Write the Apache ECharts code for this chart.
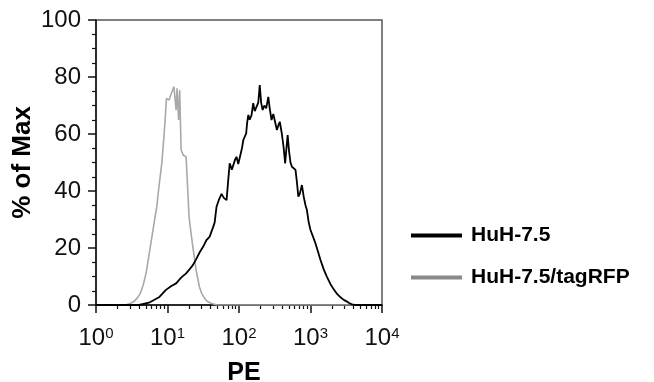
<!DOCTYPE html>
<html>
<head>
<meta charset="utf-8">
<script src="https://cdn.jsdelivr.net/npm/echarts@6/dist/echarts.min.js"></script>
<style>
  html, body { margin: 0; padding: 0; background: #fff; }
  #chart { width: 654px; height: 382px; }
</style>
</head>
<body>
<div id="chart"></div>
<script>
// PE intensity (x) and % of Max (y)
const blackPE = [1, 4.0, 5.5, 7.6, 9.5, 11.2, 13.2, 15.5, 18.2, 20, 22.6, 25.1, 28.2, 31.6, 35.1, 38.9, 43.7, 45.7, 48.5, 52.5, 57, 61.7, 67, 70.8, 74.1, 79.4, 83.2, 88.1, 92.3, 97.7, 102, 110, 115, 120, 126, 130, 135, 141, 150, 158, 166, 176, 186, 195, 204, 214, 226, 240, 257, 269, 285, 302, 316, 339, 355, 372, 398, 422, 442, 457, 479, 501, 525, 550, 582, 617, 646, 676, 708, 759, 804, 851, 891, 944, 1000, 1084, 1175, 1274, 1380, 1531, 1698, 1905, 2138, 2371, 2630, 2917, 3236, 3508, 3802, 4169, 10000];
const blackPct = [0, 0, 0.8, 2.7, 5.3, 6.6, 7.6, 9.6, 11.1, 12.3, 14, 16, 18.5, 20.5, 22.8, 24, 27.5, 29, 34.5, 37, 39, 37.5, 36.8, 44, 49.7, 47.5, 48, 51, 52, 49.5, 49.7, 55, 57.9, 58, 60.2, 64, 66.7, 65, 66.7, 70.8, 68, 67.3, 71, 77.2, 71, 68.4, 70, 69, 73, 69, 64.9, 67, 67.3, 61.4, 63, 64.3, 60, 55, 49.7, 54, 59.6, 54, 50, 48.5, 48, 47.4, 43, 38, 39, 42.1, 38, 35, 33.3, 29, 26.3, 24, 21.6, 18.7, 15.8, 12.5, 9.9, 7.3, 5.3, 3.8, 2.7, 1.8, 1.2, 0.6, 0.2, 0, 0];

const grayPE = [1, 2.57, 3.0, 3.39, 3.8, 4.17, 4.57, 5.01, 5.56, 6.17, 6.61, 7.08, 7.59, 8.32, 8.91, 9.33, 9.66, 10.5, 11.1, 11.7, 12.3, 13.2, 13.6, 14.3, 14.8, 15.5, 16.6, 18.2, 19.3, 20, 21.4, 22.6, 25.1, 27.9, 30.2, 33.1, 36.3, 40.7, 49, 10000];
const grayPct = [0, 0, 0.5, 1.2, 2.5, 4.1, 7, 11.1, 18.1, 25.2, 30, 34.5, 41.5, 49.7, 59, 66, 72.5, 71.9, 73.7, 74.3, 76.6, 68.4, 76, 64.9, 75.4, 54.4, 52.6, 52, 39.2, 31, 25, 20.5, 12.3, 6.4, 4, 2.3, 1.2, 0.6, 0, 0];

const xDecades = [1, 10, 100, 1000, 10000];
const xMinor = [2, 3, 4, 5, 6, 7, 8, 9, 20, 30, 40, 50, 60, 70, 80, 90, 200, 300, 400, 500, 600, 700, 800, 900, 2000, 3000, 4000, 5000, 6000, 7000, 8000, 9000];

const FONT = "'Liberation Sans', Arial, sans-serif";

const pairs = (xs, ys) => xs.map((x, i) => [x, ys[i]]);

const chart = echarts.init(document.getElementById('chart'), null, { renderer: 'canvas' });

chart.setOption({
  backgroundColor: '#fff',
  animation: false,
  textStyle: { fontFamily: FONT },
  grid: {
    left: 96, right: 272, top: 20, bottom: 77,
    containLabel: false, outerBoundsMode: 'none',
    show: true, borderColor: '#555', borderWidth: 1.5, backgroundColor: 'transparent'
  },
  legend: {
    orient: 'vertical',
    left: 406,
    top: 220,
    itemWidth: 51,
    itemHeight: 4,
    itemGap: 21,
    icon: 'rect',
    textStyle: { fontSize: 21, fontWeight: 'bold', color: '#000', fontFamily: FONT, padding: [0, 0, 0, 4] },
    data: [
      { name: 'HuH-7.5', itemStyle: { color: '#000' } },
      { name: 'HuH-7.5/tagRFP', itemStyle: { color: '#8a8a8a' } }
    ]
  },
  xAxis: [
    {
      type: 'log', logBase: 10, min: 1, max: 10000, position: 'bottom',
      name: 'PE', nameLocation: 'middle', nameGap: 56,
      nameTextStyle: { fontSize: 25, fontWeight: 'bold', color: '#000', fontFamily: FONT, padding: [0, 0, 0, 10] },
      axisLine: { onZero: false, lineStyle: { color: '#111', width: 1.5 } },
      axisTick: { customValues: xDecades, length: 8, lineStyle: { color: '#111', width: 1.5 } },
      axisLabel: {
        customValues: xDecades,
        margin: 21,
        formatter: (v) => '{b|10}{s|' + Math.round(Math.log10(v)) + '}',
        rich: {
          b: { fontSize: 24, color: '#111', fontFamily: FONT, lineHeight: 24 },
          s: { fontSize: 15, color: '#111', fontFamily: FONT, lineHeight: 15, verticalAlign: 'top' }
        }
      },
      splitLine: { show: false }
    },
    {
      type: 'log', logBase: 10, min: 1, max: 10000, position: 'bottom',
      axisLine: { show: false, onZero: false },
      axisTick: { customValues: xMinor, length: 4, lineStyle: { color: '#111', width: 1.2 } },
      axisLabel: { show: false },
      splitLine: { show: false }
    }
  ],
  yAxis: {
    type: 'value', min: 0, max: 100, interval: 20,
    name: '% of Max', nameLocation: 'middle', nameGap: 60,
    nameTextStyle: { fontSize: 26, fontWeight: 'bold', color: '#000', fontFamily: FONT },
    axisLine: { show: true, lineStyle: { color: '#111', width: 1.5 } },
    axisTick: { show: true, length: 8, lineStyle: { color: '#111', width: 1.5 } },
    minorTick: { show: true, splitNumber: 4, length: 4, lineStyle: { color: '#111', width: 1.2 } },
    axisLabel: { fontSize: 24, color: '#111', margin: 15, fontFamily: FONT },
    splitLine: { show: false }
  },
  series: [
    {
      name: 'HuH-7.5/tagRFP', type: 'line', xAxisIndex: 0, symbol: 'none', z: 2,
      lineStyle: { color: '#a8a8a8', width: 1.6 },
      itemStyle: { color: '#a8a8a8' },
      data: pairs(grayPE, grayPct)
    },
    {
      name: 'HuH-7.5', type: 'line', xAxisIndex: 0, symbol: 'none', z: 3,
      lineStyle: { color: '#000', width: 1.8 },
      itemStyle: { color: '#000' },
      data: pairs(blackPE, blackPct)
    }
  ]
});
</script>
</body>
</html>
